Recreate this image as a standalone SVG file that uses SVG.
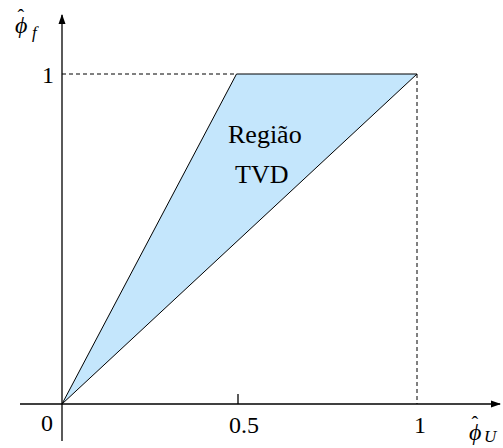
<svg xmlns="http://www.w3.org/2000/svg" width="503" height="448" viewBox="0 0 503 448">
<defs>
<marker id="arr" viewBox="0 0 10 10" refX="9" refY="5" markerWidth="10" markerHeight="10" markerUnits="userSpaceOnUse" orient="auto">
<path d="M0,1.5 L10,5 L0,8.5 Z" fill="#000"/>
</marker>
</defs>
<g id="region">
<polygon points="62,404 236.5,74 417,74" fill="#c4e6fc" stroke="#000" stroke-width="1"/>
</g>
<g id="connectors" fill="none" stroke="#000">
<g stroke-width="1" stroke-dasharray="4,3">
<line x1="62" y1="74" x2="236.5" y2="74"/>
<line x1="417" y1="74" x2="417" y2="404"/>
</g>
<g stroke-width="1.3">
<line x1="20" y1="404" x2="500" y2="404" marker-end="url(#arr)"/>
<line x1="62" y1="441" x2="62" y2="15" marker-end="url(#arr)"/>
<line x1="238" y1="394" x2="238" y2="404"/>
</g>
</g>
<g id="labels">
<text x="228" y="143" font-family="Liberation Serif" font-size="26">Região</text>
<text x="235" y="183" font-family="Liberation Serif" font-size="26">TVD</text>
<text x="42" y="83" font-family="Liberation Serif" font-size="24">1</text>
<text x="41" y="431" font-family="Liberation Serif" font-size="24">0</text>
<text x="229" y="433" font-family="Liberation Serif" font-size="24">0.5</text>
<text x="414" y="433" font-family="Liberation Serif" font-size="24">1</text>
<text id="phif" x="15" y="33" font-family="Liberation Serif" font-size="24" font-style="italic">ϕ<tspan font-style="normal" font-size="20" dx="-10" dy="-9">ˆ</tspan><tspan font-size="17" dx="8" dy="14">f</tspan></text>
<text id="phiu" x="469" y="440" font-family="Liberation Serif" font-size="24" font-style="italic">ϕ<tspan font-style="normal" font-size="20" dx="-10" dy="-9">ˆ</tspan><tspan font-size="17" dx="6" dy="11">U</tspan></text>
</g>
</svg>
